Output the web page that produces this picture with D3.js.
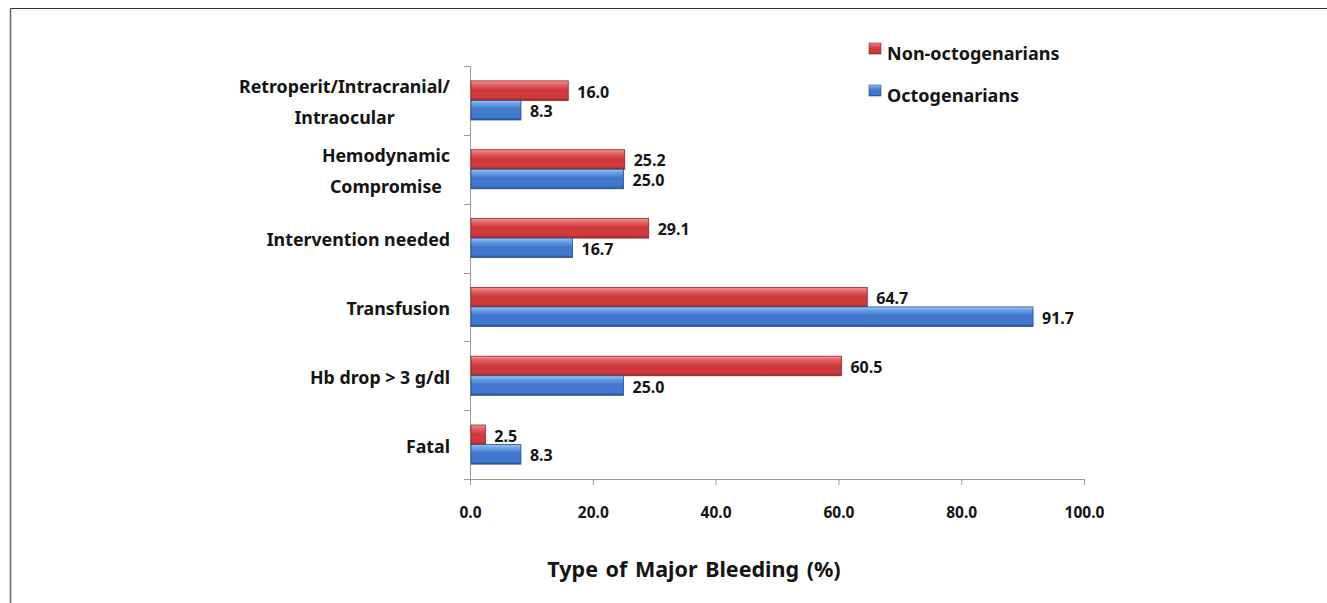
<!DOCTYPE html>
<html>
<head>
<meta charset="utf-8">
<script src="https://cdn.jsdelivr.net/npm/d3@7"></script>
<style>
  html, body { margin: 0; padding: 0; background: #fff; }
  svg { display: block; }
  text { font-family: "Noto Sans", "Open Sans", sans-serif; font-weight: bold; fill: #141414; }
</style>
</head>
<body>
<svg id="chart" width="1327" height="603"></svg>
<script>
// Bleeding types, listed top to bottom; multi-line labels split on "\n"
const categories = [
  "Retroperit/Intracranial/\nIntraocular",
  "Hemodynamic\nCompromise",
  "Intervention needed",
  "Transfusion",
  "Hb drop > 3 g/dl",
  "Fatal"
];
const seriesNames = ["Non-octogenarians", "Octogenarians"];
const nonOctogenarians = [16.0, 25.2, 29.1, 64.7, 60.5, 2.5];
const octogenarians = [8.3, 25.0, 16.7, 91.7, 25.0, 8.3];
const xTicks = [0, 20, 40, 60, 80, 100];
const axisTitle = "Type of Major Bleeding (%)";

const svg = d3.select("#chart");

// Frame lines along the top and left edges
svg.append("line").attr("x1", 10).attr("x2", 1327).attr("y1", 8.5).attr("y2", 8.5)
  .attr("stroke", "#333").attr("stroke-width", 1.2);
svg.append("line").attr("x1", 10.5).attr("x2", 10.5).attr("y1", 8).attr("y2", 603)
  .attr("stroke", "#666").attr("stroke-width", 1.5);

const plot = { left: 470, right: 1084, top: 66, bottom: 479 };

const x = d3.scaleLinear().domain([0, 100]).range([plot.left, plot.right]);
const y = d3.scaleBand().domain(categories).range([plot.top, plot.bottom]);
const sub = d3.scaleBand().domain(seriesNames).range([0, y.bandwidth()])
  .paddingInner(0).paddingOuter(0.76);

// Glossy bar gradients
const defs = svg.append("defs");
function gloss(id, top, light, mid, dark) {
  const g = defs.append("linearGradient").attr("id", id)
    .attr("x1", 0).attr("y1", 0).attr("x2", 0).attr("y2", 1);
  g.append("stop").attr("offset", "0%").attr("stop-color", top);
  g.append("stop").attr("offset", "18%").attr("stop-color", light);
  g.append("stop").attr("offset", "45%").attr("stop-color", mid);
  g.append("stop").attr("offset", "85%").attr("stop-color", mid);
  g.append("stop").attr("offset", "100%").attr("stop-color", dark);
}
gloss("gRed", "#f39a9a", "#e66464", "#cf3b3d", "#a12427");
gloss("gBlue", "#9cc6f5", "#6a9fe3", "#3f78cc", "#2a5294");
const fills = { "Non-octogenarians": "url(#gRed)", "Octogenarians": "url(#gBlue)" };
const strokes = { "Non-octogenarians": "#8e2224", "Octogenarians": "#264d8c" };

// Axes
const xAxis = d3.axisBottom(x).tickValues(xTicks).tickFormat(d3.format(".1f"))
  .tickSize(6).tickSizeOuter(0).tickPadding(22);
const gx = svg.append("g").attr("transform", `translate(0,${plot.bottom})`).call(xAxis);
gx.select(".domain").attr("stroke", "#9a9a9a");
gx.selectAll(".tick line").attr("stroke", "#9a9a9a");
gx.selectAll(".tick text").attr("font-size", 15.5).attr("font-family", null).attr("fill", null);

const yTickPos = d3.range(categories.length + 1).map(i => plot.top + i * y.step());
const gy = svg.append("g");
gy.append("line").attr("x1", plot.left + 0.5).attr("x2", plot.left + 0.5)
  .attr("y1", plot.top).attr("y2", plot.bottom).attr("stroke", "#9a9a9a");
gy.selectAll("line.tk").data(yTickPos).join("line").attr("class", "tk")
  .attr("x1", plot.left - 6).attr("x2", plot.left)
  .attr("y1", d => Math.round(d) + 0.5).attr("y2", d => Math.round(d) + 0.5)
  .attr("stroke", "#9a9a9a");

// Category labels: right-aligned block, lines centred within it
const labelRight = 450;
categories.forEach(cat => {
  const lines = cat.split("\n");
  const cy = y(cat) + y.bandwidth() / 2;
  const lh = 30.5;
  const g = svg.append("g");
  const texts = lines.map((ln, i) => g.append("text")
    .attr("font-size", 17.8)
    .attr("dominant-baseline", "central")
    .attr("y", cy + (i - (lines.length - 1) / 2) * lh + 1)
    .text(ln));
  const widths = texts.map(t => t.node().getComputedTextLength());
  const maxW = d3.max(widths);
  const centre = labelRight - maxW / 2;
  texts.forEach(t => t.attr("x", centre).attr("text-anchor", "middle"));
});

// Bars and value labels
const rows = categories.map((c, i) => ({
  cat: c,
  vals: [
    { s: seriesNames[0], v: nonOctogenarians[i] },
    { s: seriesNames[1], v: octogenarians[i] }
  ]
}));
const groups = svg.append("g").selectAll("g").data(rows).join("g")
  .attr("transform", d => `translate(0,${y(d.cat)})`);
groups.selectAll("rect").data(d => d.vals).join("rect")
  .attr("x", x(0) + 1)
  .attr("y", d => sub(d.s))
  .attr("width", d => x(d.v) - x(0) - 1)
  .attr("height", sub.bandwidth())
  .attr("fill", d => fills[d.s])
  .attr("stroke", d => strokes[d.s])
  .attr("stroke-width", 0.8);
groups.selectAll("text").data(d => d.vals).join("text")
  .attr("x", d => x(d.v) + 9)
  .attr("y", d => sub(d.s) + sub.bandwidth() / 2 + 1)
  .attr("dominant-baseline", "central")
  .attr("font-size", 16)
  .text(d => d.v.toFixed(1));

// Legend
const legend = svg.append("g").attr("transform", "translate(869,0)");
seriesNames.forEach((s, i) => {
  const cy = 52 + i * 42;
  legend.append("rect").attr("x", 0).attr("y", cy - 9).attr("width", 12).attr("height", 11)
    .attr("fill", fills[s]).attr("stroke", strokes[s]).attr("stroke-width", 0.6);
  legend.append("text").attr("x", 18).attr("y", cy + 1)
    .attr("dominant-baseline", "central").attr("font-size", 18).text(s);
});

// Axis title
svg.append("text").attr("x", 694).attr("y", 568)
  .attr("text-anchor", "middle").attr("dominant-baseline", "central")
  .attr("font-size", 21.5).attr("word-spacing", 2).text(axisTitle);
</script>
</body>
</html>
